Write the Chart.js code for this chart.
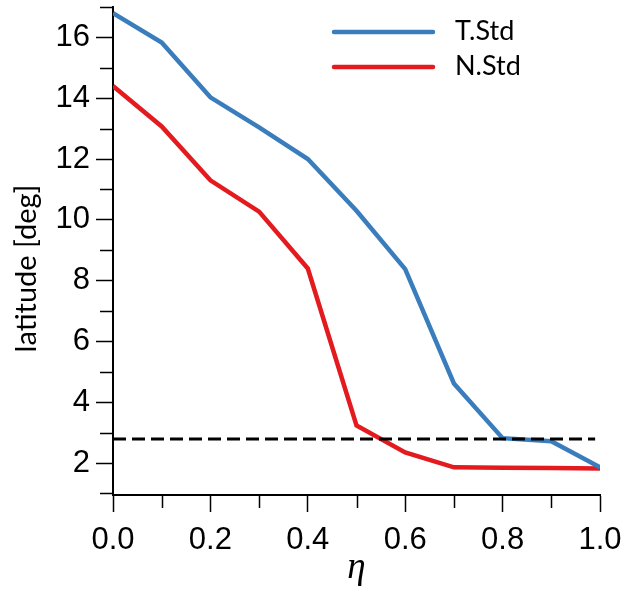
<!DOCTYPE html>
<html>
<head>
<meta charset="utf-8">
<script src="https://cdn.jsdelivr.net/npm/chart.js"></script>
<style>
  body { margin: 0; background: #fff; }
</style>
</head>
<body>
<canvas id="myChart" width="624" height="590"></canvas>
<script>
// eta values on the x axis
const etaValues = [0, 0.1, 0.2, 0.3, 0.4, 0.5, 0.6, 0.7, 0.8, 0.9, 1.0];
// latitude [deg]
const tStd = [16.8, 15.83, 14.03, 13.04, 12.0, 10.3, 8.38, 4.62, 2.82, 2.72, 1.86];
const nStd = [14.4, 13.07, 11.3, 10.27, 8.4, 3.24, 2.35, 1.86, 1.85, 1.84, 1.82];
// dashed reference line
const refX = [0, 0.99];
const refY = [2.79, 2.79];

const xMajorTicks = [0, 0.2, 0.4, 0.6, 0.8, 1.0];
const xMinorTicks = [0.1, 0.3, 0.5, 0.7, 0.9];
const yMajorTicks = [2, 4, 6, 8, 10, 12, 14, 16];
const yMinorTicks = [1, 3, 5, 7, 9, 11, 13, 15, 17];

const toPoints = (xs, ys) => xs.map((x, i) => ({ x: x, y: ys[i] }));

const minorTicks = {
  id: "minorTicks",
  afterDraw(chart) {
    const ctx = chart.ctx;
    const xs = chart.scales.x;
    const ys = chart.scales.y;
    const area = chart.chartArea;
    ctx.save();
    ctx.strokeStyle = "#000";
    ctx.lineWidth = 1.5;
    ctx.beginPath();
    xMinorTicks.forEach((v) => {
      const px = Math.round(xs.getPixelForValue(v)) + 0.5;
      ctx.moveTo(px, area.bottom);
      ctx.lineTo(px, area.bottom + 13);
    });
    yMinorTicks.forEach((v) => {
      const py = Math.round(ys.getPixelForValue(v)) + 0.5;
      ctx.moveTo(area.left - 13, py);
      ctx.lineTo(area.left, py);
    });
    ctx.stroke();
    ctx.restore();
  },
};

const labelsAndLegend = {
  id: "labelsAndLegend",
  afterDraw(chart) {
    const ctx = chart.ctx;
    ctx.save();
    // y axis title
    ctx.fillStyle = "#000";
    ctx.font = "29px Lato";
    ctx.textAlign = "center";
    ctx.textBaseline = "alphabetic";
    ctx.translate(36, 268.5);
    ctx.rotate(-Math.PI / 2);
    ctx.fillText("latitude [deg]", 0, 0);
    ctx.restore();

    // legend
    ctx.save();
    const items = chart.data.datasets.filter((d) => d.label);
    items.forEach((d, i) => {
      const y = 32 + i * 35;
      ctx.strokeStyle = d.borderColor;
      ctx.lineWidth = 4.5;
      ctx.lineCap = "round";
      ctx.beginPath();
      ctx.moveTo(334, y);
      ctx.lineTo(433, y);
      ctx.stroke();
      ctx.fillStyle = "#000";
      ctx.font = "27px Lato";
      ctx.textAlign = "left";
      ctx.textBaseline = "alphabetic";
      ctx.fillText(d.label, 455, y + 7.5);
    });
    ctx.restore();
  },
};

new Chart(document.getElementById("myChart"), {
  type: "line",
  data: {
    datasets: [
      {
        data: toPoints(refX, refY),
        borderColor: "#000",
        borderWidth: 3,
        borderDash: [13, 6],
        pointRadius: 0,
        order: 0,
      },
      {
        label: "T.Std",
        data: toPoints(etaValues, tStd),
        borderColor: "#3a7dbd",
        borderWidth: 4.5,
        pointRadius: 0,
        order: 1,
      },
      {
        label: "N.Std",
        data: toPoints(etaValues, nStd),
        borderColor: "#e31b1f",
        borderWidth: 4.5,
        pointRadius: 0,
        order: 2,
      },
    ],
  },
  options: {
    responsive: false,
    animation: false,
    layout: { padding: { top: 7, right: 24, left: 0, bottom: 0 } },
    plugins: { legend: { display: false }, tooltip: { enabled: false } },
    scales: {
      x: {
        type: "linear",
        min: 0,
        max: 1,
        afterBuildTicks: (scale) => {
          scale.ticks = xMajorTicks.map((v) => ({ value: v }));
        },
        afterFit: (scale) => {
          scale.height = 95;
          scale.paddingLeft = 0;
          scale.paddingRight = 0;
        },
        border: { display: true, color: "#000", width: 2 },
        grid: { drawOnChartArea: false, tickLength: 17, tickColor: "#000", tickWidth: 1.5 },
        ticks: {
          color: "#000",
          padding: 10,
          maxRotation: 0,
          font: { family: "Liberation Sans", size: 31 },
          callback: (v) => v.toFixed(1),
        },
        title: {
          display: true,
          text: "η",
          color: "#000",
          font: { family: "Liberation Serif", style: "italic", size: 37, lineHeight: 1.2 },
          padding: { top: 0, bottom: 0 },
        },
      },
      y: {
        min: 0.95,
        max: 17,
        afterBuildTicks: (scale) => {
          scale.ticks = yMajorTicks.map((v) => ({ value: v }));
        },
        afterFit: (scale) => {
          scale.width = 113;
          scale.paddingTop = 0;
          scale.paddingBottom = 0;
        },
        border: { display: true, color: "#000", width: 2 },
        grid: { drawOnChartArea: false, tickLength: 17, tickColor: "#000", tickWidth: 1.5 },
        ticks: {
          color: "#000",
          padding: 6,
          font: { family: "Liberation Sans", size: 31 },
        },
      },
    },
  },
  plugins: [minorTicks, labelsAndLegend],
});
</script>
</body>
</html>
